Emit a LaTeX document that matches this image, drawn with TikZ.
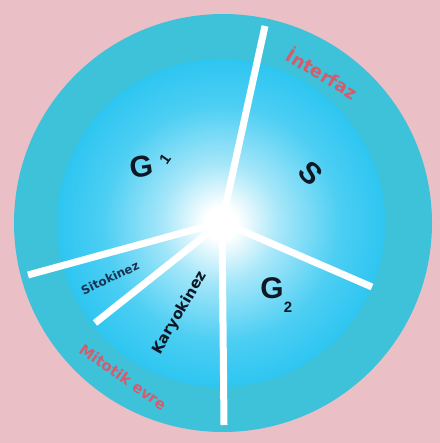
\documentclass[tikz,border=0pt]{standalone}
\usepackage{fontspec}
\setmainfont{Liberation Sans}
\newfontfamily\widefont{DejaVu Sans}
\definecolor{bgpink}{RGB}{235,191,198}
\definecolor{ringcyan}{RGB}{62,194,218}
\definecolor{incyan}{RGB}{32,194,240}
\definecolor{labred}{RGB}{212,92,108}
\definecolor{ink}{RGB}{14,24,36}
\definecolor{navy}{RGB}{26,52,84}
\pgfdeclareradialshading{glow}{\pgfpoint{0bp}{0bp}}{color(0bp)=(white); color(2.5bp)=(white); color(9bp)=(incyan!40!white); color(18bp)=(incyan!80!white); color(28bp)=(incyan); color(50bp)=(incyan)}
\begin{document}
\begin{tikzpicture}[x=1bp,y=1bp,
  spoke/.style={draw=white, line width=7bp},
  bigletter/.style={text=ink, font=\bfseries\fontsize{30}{30}\selectfont, inner sep=0pt},
  subletter/.style={text=ink, font=\bfseries\fontsize{15}{15}\selectfont, inner sep=0pt},
  smalllabel/.style={text=navy, font=\widefont\bfseries\fontsize{12}{12}\selectfont, inner sep=0pt},
  midlabel/.style={text=ink, font=\widefont\bfseries\fontsize{15}{15}\selectfont, inner sep=0pt},
  redlabel/.style={text=labred, font=\widefont\bfseries\fontsize{#1}{#1}\selectfont, inner sep=0pt}
]
\fill[bgpink] (0,0) rectangle (440,443);
\useasboundingbox (0,0) rectangle (440,443);
\coordinate (O) at (223,220);
\coordinate (I) at (221,220);
\fill[ringcyan] (O) circle[radius=209];
\shade[shading=glow] (I) circle[radius=164];
% spokes
\coordinate (C) at (222,221);
\coordinate (eS) at (265,417);
\coordinate (eG) at (372,156);
\coordinate (eM) at (224,18);
\coordinate (eSito) at (28,168);
\coordinate (eKar) at (95,120);
\foreach \e in {eS,eG,eM,eSito,eKar} \draw[spoke] (C) -- (\e);
% labels
\node[bigletter, rotate=8] (g1) at (142,276) {G};
\node[subletter, rotate=55] (g1s) at (165,284) {1};
\node[bigletter, rotate=-45] (s) at (311,270) {S};
\node[bigletter] (g2) at (272,155) {G};
\node[subletter] (g2s) at (288,136) {2};
\node[smalllabel, rotate=25] (sito) at (110,165) {Sitokinez};
\node[midlabel, rotate=60] (kar) at (180,130) {Karyokinez};
\node[redlabel=18, rotate=-31] (inter) at (323,370) {İnterfaz};
\node[redlabel=15, rotate=-35] (mito) at (123,66) {Mitotik evre};
\end{tikzpicture}
\end{document}
